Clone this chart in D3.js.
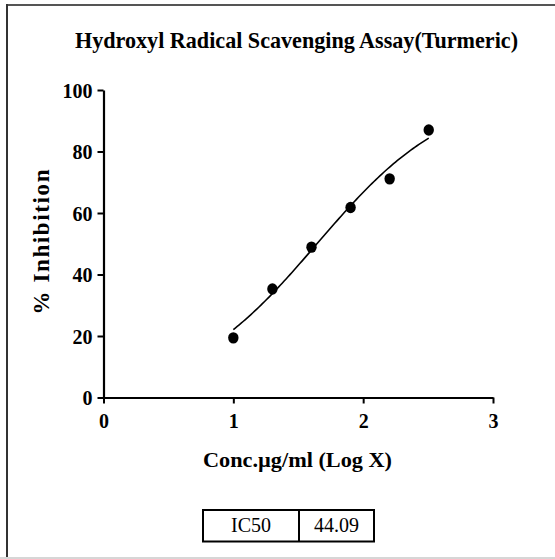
<!DOCTYPE html>
<html>
<head>
<meta charset="utf-8">
<script src="https://cdn.jsdelivr.net/npm/d3@7"></script>
<style>
  html, body { margin: 0; padding: 0; background: #fff; }
  svg { display: block; }
  text { font-family: "Liberation Serif", "Times New Roman", serif; fill: #000; }
</style>
</head>
<body>
<svg id="chart" width="555" height="559"></svg>
<script>
// Measured points: log10 concentration (µg/ml) vs % inhibition
const logConc = [1.0, 1.301, 1.602, 1.903, 2.204, 2.505];
const inhibition = [19.4, 35.3, 48.9, 61.8, 71.1, 87.0];

// Sigmoidal dose-response fit (bottom 0, top 100)
const fitBottom = 0;
const fitTop = 100;
const ic50 = 44.09;
const hillSlope = 0.85;

const xTicks = [0, 1, 2, 3];
const yTicks = [0, 20, 40, 60, 80, 100];

const serif = "Liberation Serif, Times New Roman, serif";
const svg = d3.select("#chart");

// outer frame
svg.append("line").attr("x1", 6).attr("x2", 555).attr("y1", 5).attr("y2", 5)
  .attr("stroke", "#555").attr("stroke-width", 2);
svg.append("line").attr("x1", 7).attr("x2", 7).attr("y1", 4).attr("y2", 557)
  .attr("stroke", "#333").attr("stroke-width", 2);
svg.append("line").attr("x1", 0).attr("x2", 555).attr("y1", 558).attr("y2", 558)
  .attr("stroke", "#c8c8c8").attr("stroke-width", 1.5);

const x = d3.scaleLinear().domain([0, 3]).range([103.5, 493]);
const y = d3.scaleLinear().domain([0, 100]).range([397.5, 90]);

// title
svg.append("text")
  .attr("x", 296.5).attr("y", 48)
  .attr("text-anchor", "middle")
  .attr("font-family", serif)
  .attr("font-weight", "bold")
  .attr("font-size", 22.5)
  .attr("textLength", 443).attr("lengthAdjust", "spacingAndGlyphs")
  .text("Hydroxyl Radical Scavenging Assay(Turmeric)");

// axes
const xAxis = svg.append("g").attr("transform", `translate(0,${y(0)})`)
  .call(d3.axisBottom(x).tickValues(xTicks).tickFormat(d3.format("d")).tickSize(6).tickSizeOuter(0));
const yAxis = svg.append("g").attr("transform", `translate(${x(0)},0)`)
  .call(d3.axisLeft(y).tickValues(yTicks).tickFormat(d3.format("d")).tickSize(6).tickSizeOuter(0));

[xAxis, yAxis].forEach(g => {
  g.select(".domain").attr("stroke", "#000").attr("stroke-width", 2.2);
  g.selectAll(".tick line").attr("stroke", "#000").attr("stroke-width", 2);
  g.selectAll(".tick text")
    .attr("font-family", serif)
    .attr("font-weight", "bold").attr("font-size", 20).attr("fill", "#000");
});
xAxis.selectAll(".tick text").attr("y", 9).attr("dy", "1.05em");
yAxis.selectAll(".tick text").attr("x", -11).attr("dy", "0.36em");

// axis titles
svg.append("text")
  .attr("x", 297.5).attr("y", 467)
  .attr("text-anchor", "middle")
  .attr("font-family", serif)
  .attr("font-weight", "bold").attr("font-size", 21.5)
  .attr("textLength", 189).attr("lengthAdjust", "spacingAndGlyphs")
  .text("Conc.µg/ml (Log X)");

svg.append("text")
  .attr("transform", "translate(49,242) rotate(-90)")
  .attr("text-anchor", "middle")
  .attr("font-family", serif)
  .attr("font-weight", "bold").attr("font-size", 23)
  .attr("textLength", 145).attr("lengthAdjust", "spacing")
  .text("% Inhibition");

// fitted curve
const logIC50 = Math.log10(ic50);
const fitFn = lx => fitBottom + (fitTop - fitBottom) / (1 + Math.pow(10, (logIC50 - lx) * hillSlope));
const xs = d3.range(0, 101).map(i => logConc[0] + (logConc[logConc.length - 1] - logConc[0]) * i / 100);
svg.append("path")
  .datum(xs)
  .attr("fill", "none").attr("stroke", "#000").attr("stroke-width", 1.6)
  .attr("d", d3.line().x(d => x(d)).y(d => y(fitFn(d))));

// data points
svg.append("g").selectAll("ellipse")
  .data(logConc.map((v, i) => [v, inhibition[i]]))
  .join("ellipse")
  .attr("cx", d => x(d[0])).attr("cy", d => y(d[1]))
  .attr("rx", 5.2).attr("ry", 5.7)
  .attr("fill", "#000");

// IC50 results box
const box = svg.append("g");
box.append("rect").attr("x", 203).attr("y", 510).attr("width", 171).attr("height", 31.5)
  .attr("fill", "none").attr("stroke", "#000").attr("stroke-width", 2);
box.append("line").attr("x1", 299).attr("x2", 299).attr("y1", 510).attr("y2", 541.5)
  .attr("stroke", "#000").attr("stroke-width", 2);
box.append("text").attr("x", 251).attr("y", 532).attr("text-anchor", "middle")
  .attr("font-family", serif).attr("font-size", 20).text("IC50");
box.append("text").attr("x", 336.5).attr("y", 532).attr("text-anchor", "middle")
  .attr("font-family", serif).attr("font-size", 20).text(ic50.toFixed(2));
</script>
</body>
</html>
